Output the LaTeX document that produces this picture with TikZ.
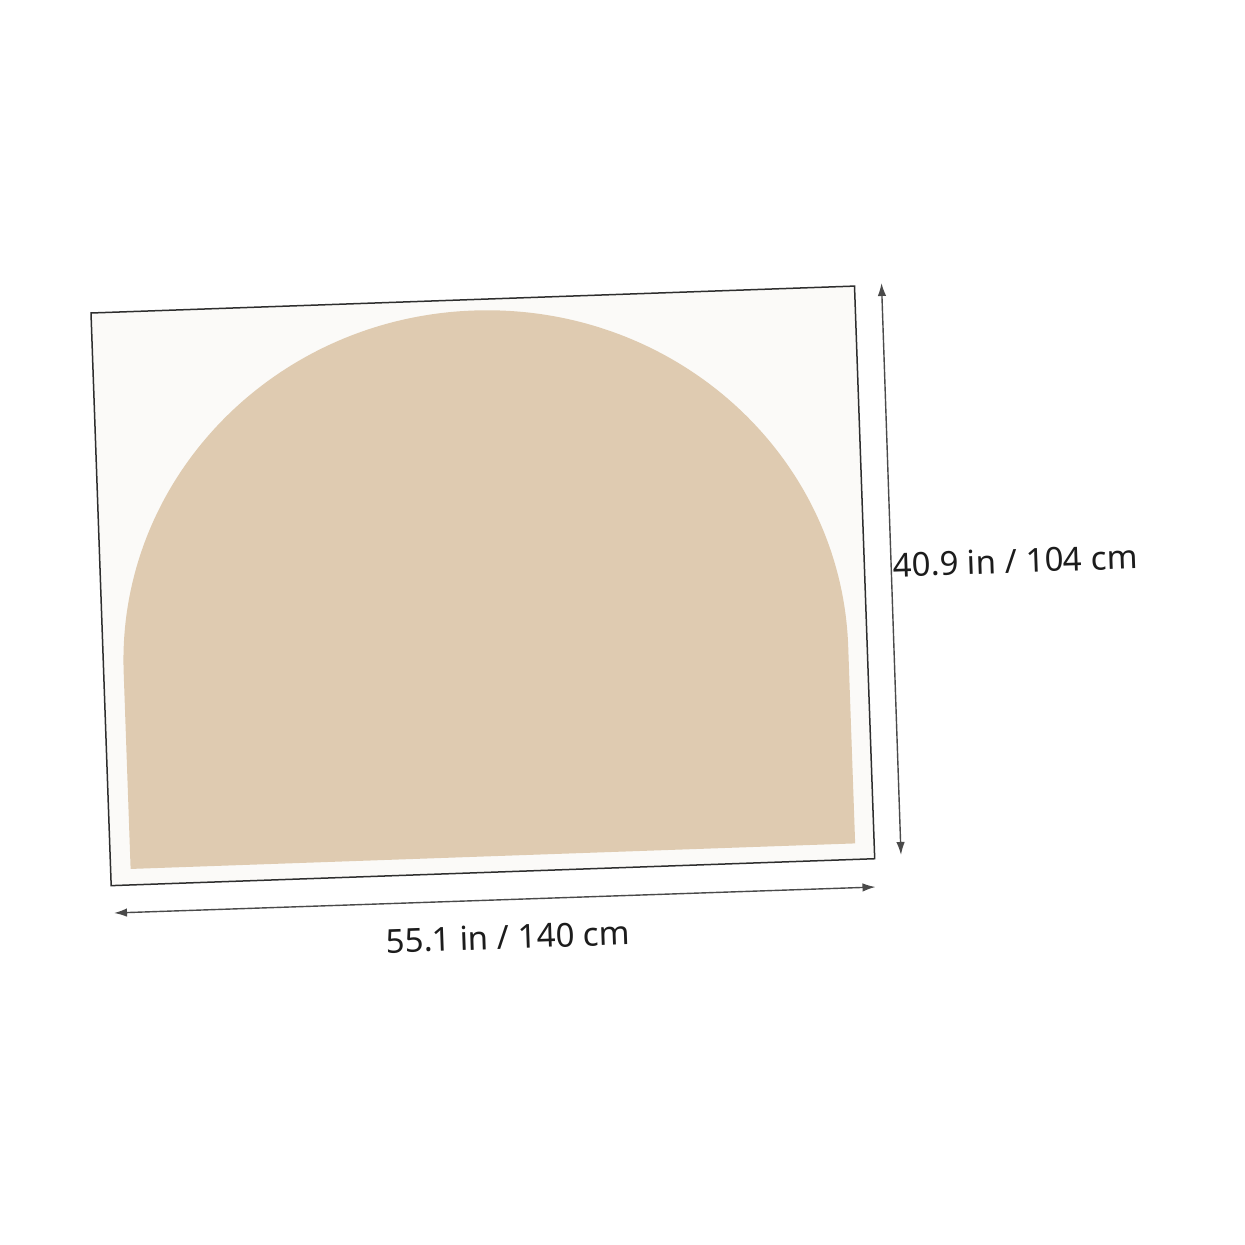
\documentclass[tikz,border=0pt]{standalone}
\usepackage{fontspec}
\setmainfont{Noto Sans}
\usetikzlibrary{arrows.meta}
\definecolor{sheet}{HTML}{FBFAF8}
\definecolor{tan}{HTML}{DFCBB1}
\definecolor{frameline}{HTML}{2E2E2E}
\definecolor{dimline}{HTML}{4A4A4A}
\definecolor{dimtext}{HTML}{1C1C1C}
\tikzset{
  dimarrow/.style={draw=dimline, line width=1.4pt, {Latex[length=13pt,width=8.5pt]}-{Latex[length=13pt,width=8.5pt]}},
  dimlabel/.style={text=dimtext, font=\fontsize{33}{38}\selectfont, rotate=2, anchor=base, inner sep=0pt},
}
\begin{document}
\begin{tikzpicture}[x=1pt,y=-1pt]
\useasboundingbox (0,0) rectangle (1245,1245);
\fill[white] (0,0) rectangle (1245,1245);
\begin{scope}[shift={(91,313)}, rotate=2.02]
  \draw[fill=sheet, draw=frameline, line width=1.5pt] (0,0) rectangle (764,573);
  \fill[tan] (20,557) -- (20,360) arc[start angle=180, end angle=360, x radius=362.5, y radius=349] -- (745,557) -- cycle;
\end{scope}
\coordinate (wl) at (114,913);
\coordinate (wr) at (875.5,887);
\coordinate (ht) at (881.5,283);
\coordinate (hb) at (901,855);
\draw[dimarrow] (wl) -- (wr);
\draw[dimarrow] (ht) -- (hb);
\node[dimlabel] (wlabel) at (508.5,949) {55.1 in / 140 cm};
\node[dimlabel] (hlabel) at (1016,573) {40.9 in / 104 cm};
\end{tikzpicture}
\end{document}
